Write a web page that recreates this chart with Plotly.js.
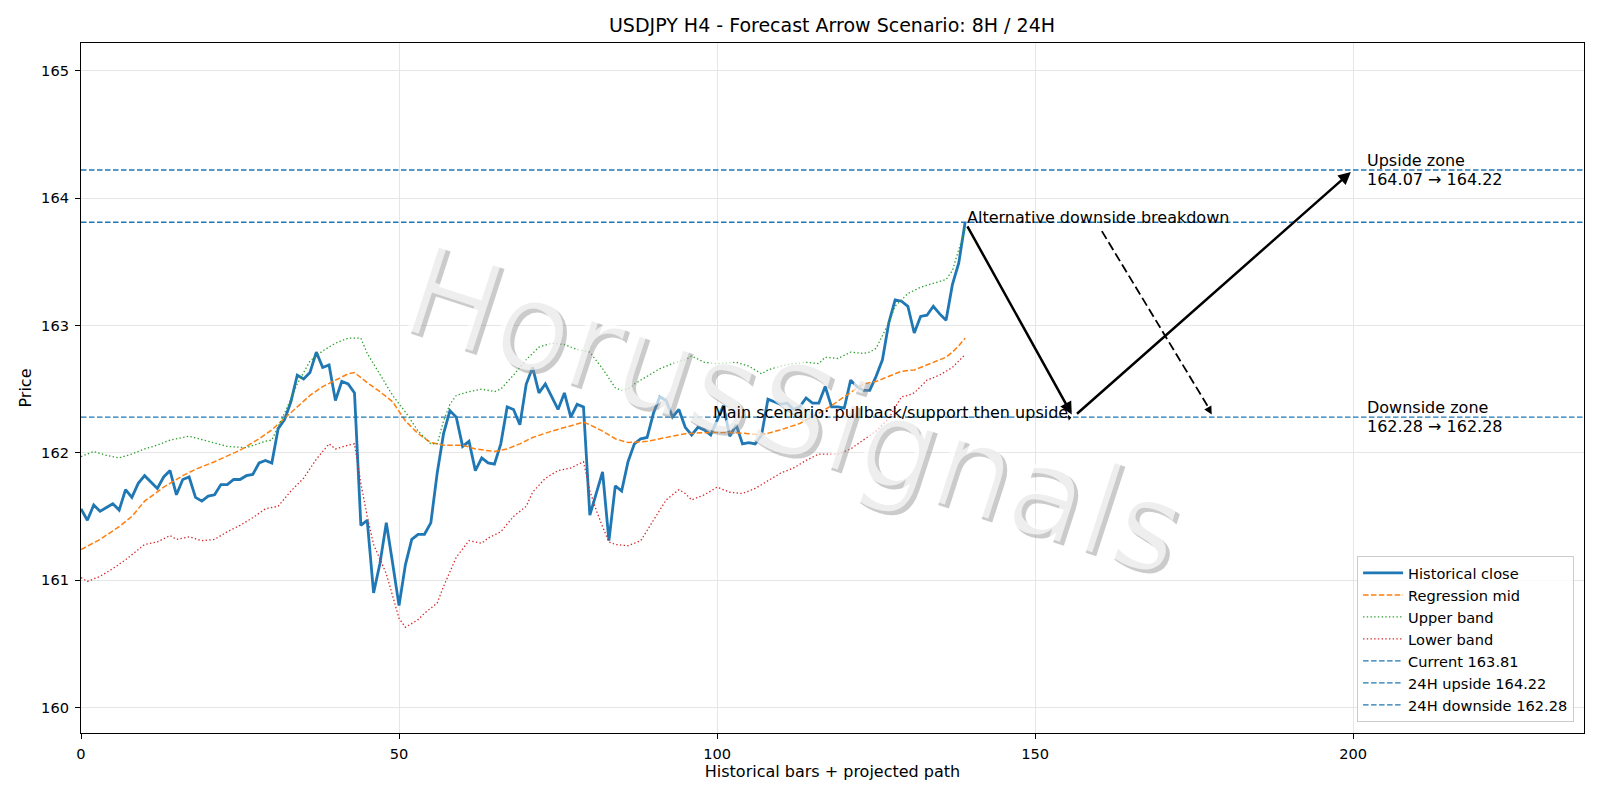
<!DOCTYPE html>
<html>
<head>
<meta charset="utf-8">
<script src="https://cdn.plot.ly/plotly-3.0.1.min.js"></script>
<style>html,body{margin:0;padding:0;background:#fff;}#chart{width:1600px;height:800px;}</style>
</head>
<body>
<div id="chart"></div>
<script>
// ---------- data ----------
const closeValues = [
161.56,161.47,161.59,161.54,161.57,161.60,161.55,161.71,161.65,161.76,
161.82,161.77,161.72,161.81,161.86,161.67,161.79,161.81,161.65,161.62,
161.66,161.67,161.75,161.75,161.79,161.79,161.82,161.83,161.92,161.94,
161.92,162.19,162.26,162.40,162.61,162.58,162.63,162.79,162.67,162.69,
162.41,162.56,162.54,162.47,161.43,161.47,160.90,161.13,161.45,161.13,
160.80,161.12,161.32,161.36,161.36,161.45,161.84,162.15,162.33,162.28,
162.05,162.09,161.86,161.96,161.92,161.91,162.07,162.36,162.34,162.22,
162.54,162.67,162.47,162.54,162.44,162.34,162.47,162.28,162.38,162.36,
161.51,161.68,161.85,161.31,161.74,161.70,161.93,162.07,162.11,162.12,
162.31,162.44,162.41,162.28,162.34,162.20,162.14,162.20,162.18,162.14,
162.25,162.37,162.13,162.22,162.07,162.08,162.07,162.14,162.42,162.40,
162.38,162.39,162.34,162.36,162.43,162.39,162.39,162.52,162.36,162.36,
162.35,162.57,162.52,162.49,162.49,162.60,162.73,163.02,163.20,163.19,
163.15,162.94,163.07,163.08,163.15,163.09,163.04,163.32,163.49,163.81];
const closeBars = closeValues.map((v, i) => i);

const midBars = [0,3,6,8,10,13,16,18,21,25,28,30,32,34,36,38,40,42,43,45,47,49,51,53,55,57,60,62,65,67,69,71,74,76,79,80,82,84,86,89,92,95,99,102,105,107,110,113,116,118,120,122,123,125,127,129,131,133,135,136,137,138,139];
const midValues = [161.24,161.32,161.42,161.50,161.62,161.73,161.82,161.87,161.93,162.02,162.11,162.18,162.27,162.36,162.45,162.52,162.57,162.62,162.63,162.55,162.48,162.40,162.25,162.15,162.08,162.06,162.06,162.03,162.01,162.03,162.07,162.12,162.17,162.20,162.24,162.22,162.17,162.11,162.08,162.09,162.12,162.15,162.16,162.16,162.15,162.14,162.18,162.23,162.31,162.37,162.44,162.51,162.54,162.56,162.60,162.64,162.65,162.69,162.73,162.75,162.79,162.84,162.90];

const upperBars = [0,2,4,6,8,10,12,14,17,20,23,26,29,30,31,32,34,36,38,40,42,44,45,47,49,51,53,55,56,57,58,59,61,63,65,66,68,70,72,74,76,78,80,82,84,85,86,87,89,91,93,95,96,98,100,103,105,107,108,110,112,114,116,117,119,121,123,124,125,126,127,128,130,132,134,136,137,138,139];
const upperValues = [161.97,162.01,161.98,161.96,161.99,162.03,162.06,162.10,162.13,162.09,162.05,162.04,162.09,162.10,162.20,162.31,162.54,162.72,162.80,162.86,162.90,162.90,162.78,162.62,162.45,162.32,162.17,162.07,162.07,162.25,162.38,162.45,162.48,162.50,162.48,162.50,162.61,162.73,162.83,162.86,162.85,162.81,162.79,162.66,162.51,162.49,162.50,162.54,162.60,162.66,162.70,162.73,162.76,162.71,162.70,162.71,162.68,162.62,162.65,162.68,162.70,162.71,162.70,162.75,162.74,162.79,162.78,162.79,162.82,162.92,163.02,163.15,163.25,163.30,163.33,163.36,163.43,163.60,163.76];

const lowerBars = [0,1,3,5,7,9,10,12,14,15,17,19,21,23,25,27,29,31,33,35,37,39,40,42,43,44,45,46,48,50,51,53,54,56,57,59,61,63,64,66,68,70,71,73,75,77,79,80,81,82,83,84,86,88,90,92,94,95,96,98,100,102,104,106,108,110,112,114,116,119,121,123,125,127,129,130,131,133,135,137,139];
const lowerValues = [161.02,160.99,161.03,161.09,161.16,161.24,161.28,161.30,161.35,161.32,161.34,161.31,161.32,161.38,161.43,161.49,161.56,161.58,161.70,161.80,161.95,162.07,162.03,162.06,162.07,161.76,161.50,161.28,161.05,160.70,160.63,160.69,160.74,160.82,160.95,161.18,161.31,161.29,161.33,161.38,161.50,161.58,161.69,161.80,161.86,161.88,161.93,161.70,161.55,161.42,161.30,161.28,161.27,161.31,161.47,161.63,161.71,161.68,161.63,161.67,161.73,161.69,161.68,161.72,161.78,161.84,161.88,161.94,161.99,161.99,162.03,162.10,162.17,162.27,162.44,162.45,162.47,162.57,162.61,162.67,162.77];

const currentLevel = 163.81;
const upsideLevel = 164.22;
const downsideLevel = 162.28;
const upsideZoneFrom = 164.07;

// projected main path: current -> support -> upside target
const pathBars = [139, 156, 200];
const pathPrices = [currentLevel, downsideLevel, upsideLevel];
// alternative path (dashed): from label toward downside
const altBars = [160.5, 178];
const altPrices = [163.74, downsideLevel];

const xRange = [0, 236.3];
const yRange = [159.80, 165.217];
const xTicks = [0, 50, 100, 150, 200];
const yTicks = [160, 161, 162, 163, 164, 165];

// ---------- styling ----------
const FONT = "DejaVu Sans, Verdana, sans-serif";
const blue = "#1f77b4";
const TXT = 16;

const traces = [
  {x: closeBars, y: closeValues, type: "scatter", mode: "lines", name: "Historical close",
   line: {color: blue, width: 2.8}},
  {x: midBars, y: midValues, type: "scatter", mode: "lines", name: "Regression mid",
   line: {color: "#ff7f0e", width: 1.5, dash: "5.5px,2.4px"}},
  {x: upperBars, y: upperValues, type: "scatter", mode: "lines", name: "Upper band",
   line: {color: "#2ca02c", width: 1.3, dash: "1.4px,2.3px"}},
  {x: lowerBars, y: lowerValues, type: "scatter", mode: "lines", name: "Lower band",
   line: {color: "#d62728", width: 1.3, dash: "1.4px,2.3px"}},
  {x: xRange, y: [currentLevel, currentLevel], type: "scatter", mode: "lines", name: "Current " + currentLevel.toFixed(2),
   line: {color: blue, width: 1.4, dash: "5.5px,2.5px"}},
  {x: xRange, y: [upsideLevel, upsideLevel], type: "scatter", mode: "lines", name: "24H upside " + upsideLevel.toFixed(2),
   line: {color: blue, width: 1.4, dash: "5.5px,2.5px"}},
  {x: xRange, y: [downsideLevel, downsideLevel], type: "scatter", mode: "lines", name: "24H downside " + downsideLevel.toFixed(2),
   line: {color: blue, width: 1.4, dash: "5.5px,2.5px"}}
];

const txtFont = {family: FONT, size: TXT, color: "#000"};

const annotations = [
  // watermark shadow + face
  {xref: "paper", yref: "paper", x: 0.474, y: 0.468, text: "HorusSignals", showarrow: false,
   textangle: 18, xshift: 4, yshift: -4, font: {family: FONT, size: 124, color: "rgba(140,140,140,0.45)"}},
  {xref: "paper", yref: "paper", x: 0.474, y: 0.468, text: "HorusSignals", showarrow: false,
   textangle: 18, font: {family: FONT, size: 124, color: "rgba(255,255,255,0.68)"}},
  // main path arrows
  {x: pathBars[1], y: pathPrices[1], ax: pathBars[0], ay: pathPrices[0], axref: "x", ayref: "y",
   showarrow: true, arrowhead: 2, arrowsize: 1, arrowwidth: 2.5, arrowcolor: "#000", standoff: 3, startstandoff: 3, text: ""},
  {x: pathBars[2], y: pathPrices[2], ax: pathBars[1], ay: pathPrices[1], axref: "x", ayref: "y",
   showarrow: true, arrowhead: 2, arrowsize: 1, arrowwidth: 2.5, arrowcolor: "#000", standoff: 3, startstandoff: 3, text: ""},
  // alt path arrowhead
  {x: altBars[1], y: altPrices[1], ax: -5, ay: -9, showarrow: true, arrowhead: 2, arrowsize: 1,
   arrowwidth: 1.6, arrowcolor: "#000", standoff: 3, text: ""},
  // labels
  {x: 139, y: currentLevel, text: "Alternative downside breakdown", showarrow: false,
   xanchor: "left", yanchor: "middle", yshift: 5, font: txtFont},
  {x: 99, y: downsideLevel, text: "Main scenario: pullback/support then upside", showarrow: false,
   xanchor: "left", yanchor: "middle", yshift: 5, font: txtFont},
  {x: pathBars[1], y: pathPrices[1], ax: -7, ay: 1, showarrow: true, arrowhead: 1, arrowsize: 1,
   arrowwidth: 1, arrowcolor: "#000", standoff: 2, text: ""},
  {x: 201.9, y: upsideLevel, text: "Upside zone", showarrow: false, xanchor: "left", yanchor: "middle",
   yshift: 9.5, font: txtFont},
  {x: 201.9, y: upsideLevel, text: upsideZoneFrom.toFixed(2) + " \u2192 " + upsideLevel.toFixed(2), showarrow: false,
   xanchor: "left", yanchor: "middle", yshift: -9.5, font: txtFont},
  {x: 201.9, y: downsideLevel, text: "Downside zone", showarrow: false, xanchor: "left", yanchor: "middle",
   yshift: 9.5, font: txtFont},
  {x: 201.9, y: downsideLevel, text: downsideLevel.toFixed(2) + " \u2192 " + downsideLevel.toFixed(2), showarrow: false,
   xanchor: "left", yanchor: "middle", yshift: -9.5, font: txtFont}
];

const shapes = [
  {type: "line", xref: "x", yref: "y", x0: altBars[0], y0: altPrices[0], x1: altBars[1] - 0.55, y1: altPrices[1] + 0.06,
   line: {color: "#000", width: 1.8, dash: "9px,4px"}, layer: "above"}
];

const axisCommon = {
  showline: true, mirror: true, linecolor: "#000", linewidth: 1.1,
  ticks: "outside", ticklen: 5, tickwidth: 1, tickcolor: "#000",
  showgrid: true, gridcolor: "#e6e6e6", gridwidth: 1, zeroline: false,
  tickfont: {family: FONT, size: 14.6, color: "#000"}
};

const layout = {
  width: 1600, height: 800,
  paper_bgcolor: "#fff", plot_bgcolor: "#fff",
  margin: {l: 81, r: 16, t: 43, b: 67},
  font: {family: FONT, size: 14.6, color: "#000"},
  title: {text: "USDJPY H4 - Forecast Arrow Scenario: 8H / 24H", font: {family: FONT, size: 19, color: "#000"},
          x: 0.52, xanchor: "center", y: 0.968, yanchor: "middle"},
  xaxis: Object.assign({}, axisCommon, {range: xRange, tickvals: xTicks, ticktext: xTicks.map(String),
          ticklabelstandoff: 2,
          title: {text: "Historical bars + projected path", font: {family: FONT, size: TXT}, standoff: 4}}),
  yaxis: Object.assign({}, axisCommon, {range: yRange, tickvals: yTicks, ticktext: yTicks.map(String),
          ticklabelstandoff: 3,
          title: {text: "Price", font: {family: FONT, size: TXT}, standoff: 5}}),
  showlegend: true,
  legend: {x: 0.9934, y: 0.016, xanchor: "right", yanchor: "bottom",
           bgcolor: "rgba(255,255,255,0.8)", bordercolor: "#cccccc", borderwidth: 1,
           font: {family: FONT, size: 14.6, color: "#000"}, traceorder: "normal",
           itemwidth: 40},
  annotations: annotations,
  shapes: shapes
};

Plotly.newPlot("chart", traces, layout, {displayModeBar: false, staticPlot: true});
</script>
</body>
</html>
